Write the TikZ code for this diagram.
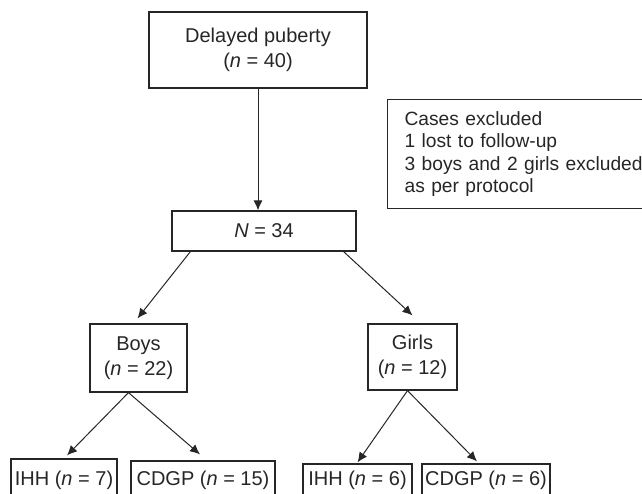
\documentclass[tikz,border=0pt]{standalone}
\usepackage{fontspec}
\setmainfont{Liberation Sans}
\usetikzlibrary{arrows.meta,calc}

\begin{document}
\begin{tikzpicture}[x=0.5pt, y=-0.5pt,
    box/.style={draw=black!85, line width=0.6pt, text=black!85, align=center, inner sep=0pt, font=\fontsize{10}{12.5}\selectfont},
    arr/.style={-{Latex[length=5pt,width=4.5pt]}, draw=black!85, line width=0.5pt}]
    \useasboundingbox (0, 0) rectangle (642, 493);
    \node[box, minimum width=109pt, minimum height=38pt] (puberty) at (258, 50) {Delayed puberty\\(\textit{n} = 40)};
    \node[box, anchor=north west, align=left, text width=125pt, inner xsep=8.5pt, minimum height=54.5pt, font=\fontsize{9.6}{11.2}\selectfont] (excl) at (387, 99) {Cases excluded\\1 lost to follow-up\\3 boys and 2 girls excluded\\as per protocol};
    \node[box, minimum width=92pt, minimum height=20pt] (N34) at (264, 231) {\textit{N} = 34};
    \node[box, minimum width=48.5pt, minimum height=34pt] (boys) at (138.5, 358) {Boys\\(\textit{n} = 22)};
    \node[box, minimum width=44.5pt, minimum height=33pt] (girls) at (412.5, 357) {Girls\\(\textit{n} = 12)};
    \node[box, minimum width=53pt, minimum height=21pt] (ihh1) at (64, 480) {IHH (\textit{n} = 7)};
    \node[box, minimum width=72pt, minimum height=19pt] (cdgp1) at (203, 480) {CDGP (\textit{n} = 15)};
    \node[box, minimum width=54.5pt, minimum height=16pt] (ihh2) at (357.5, 480) {IHH (\textit{n} = 6)};
    \node[box, minimum width=64pt, minimum height=16pt] (cdgp2) at (486, 480) {CDGP (\textit{n} = 6)};
    \draw[arr] (puberty.south) -- (puberty.south |- N34.north);
    \draw[arr] ($(N34.south west)+(19, 0)$) -- ($(boys.north)+(-1, -5)$);
    \draw[arr] ($(N34.south east)+(-13, 0)$) -- ($(girls.north)+(0, -8)$);
    \draw[arr] ($(boys.south)+(-10, 0)$) -- ($(ihh1.north)+(3, -3)$);
    \draw[arr] ($(boys.south)+(-10, 0)$) -- ($(cdgp1.north)+(-3, -6)$);
    \draw[arr] ($(girls.south)+(-5, 0)$) -- ($(ihh2.north)+(0, -1)$);
    \draw[arr] ($(girls.south)+(-5, 0)$) -- ($(cdgp2.north)+(-9, -2)$);
\end{tikzpicture}
\end{document}
